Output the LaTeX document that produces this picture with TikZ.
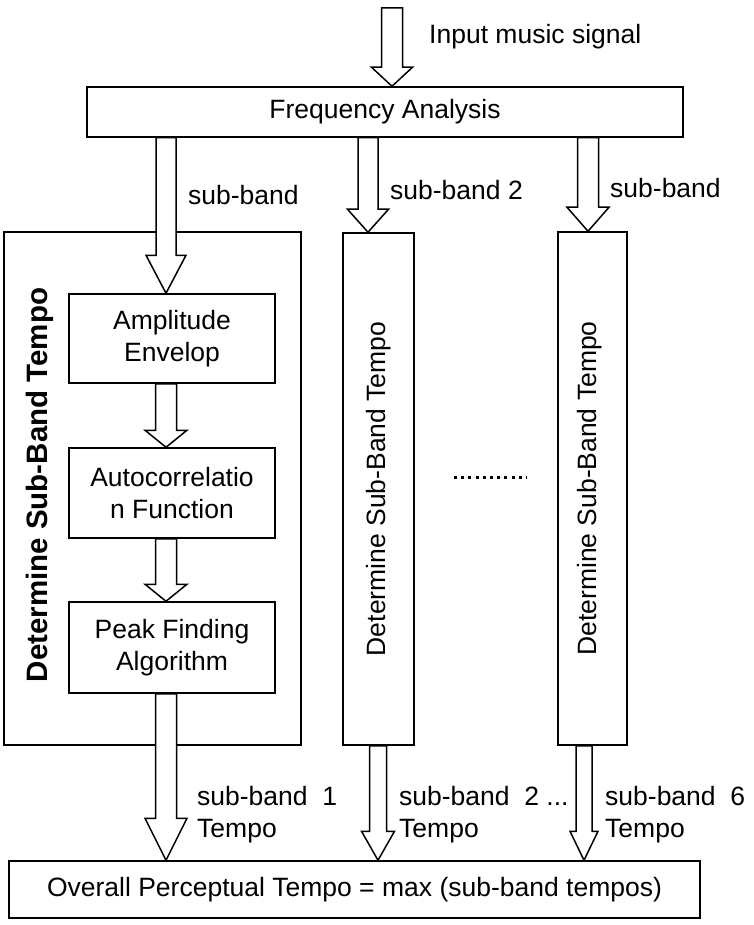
\documentclass[tikz,border=0pt]{standalone}
\usepackage{fontspec}
\setmainfont{Liberation Sans}
\usetikzlibrary{calc}

% hollow block arrow: from, to, half shaft, half head, head length
\newcommand{\fatarrow}[5]{%
  \draw[fat] ($(#1)+(-#3,0)$) -- ($(#2)+(-#3,-#5)$) -- ($(#2)+(-#4,-#5)$) -- (#2)
    -- ($(#2)+(#4,-#5)$) -- ($(#2)+(#3,-#5)$) -- ($(#1)+(#3,0)$) -- cycle;}

\begin{document}
\begin{tikzpicture}[x=1pt,y=-1pt,
font=\fontsize{26.5}{32}\selectfont,
% common options for the boxes:
box/.style = {draw, line width=1.5pt, align=center, inner sep=0},
% the hollow arrows:
fat/.style = {draw, fill=white, line width=1.5pt, line join=miter},
% labels next to the arrows:
lbl/.style = {anchor=west, align=left, inner sep=0}]
\useasboundingbox (0,0) rectangle (753,925);
\node[box,minimum width=596pt,minimum height=50pt] (freq) at (385,112) {Frequency Analysis};
\node[box,minimum width=297pt,minimum height=513pt] (outer) at (152.5,488.5) {};
\node[box,minimum width=206pt,minimum height=89pt] (amp) at (172,338.5) {Amplitude\\Envelop};
\node[box,minimum width=206pt,minimum height=90pt] (acf) at (172,493) {Autocorrelatio\\n Function};
\node[box,minimum width=206pt,minimum height=91pt] (peak) at (172,647.5) {Peak Finding\\Algorithm};
\node[box,minimum width=71pt,minimum height=512pt] (band2) at (378.5,489) {};
\node[box,minimum width=69pt,minimum height=513pt] (band6) at (592.5,488.5) {};
\node[box,minimum width=691pt,minimum height=57pt] (total) at (354.5,889.5) {Overall Perceptual Tempo = max (sub-band tempos)};
\node[rotate=90,inner sep=0,font=\fontsize{29.5}{34}\selectfont\bfseries] (t1) at (40,485) {Determine Sub-Band Tempo};
\node[rotate=90,inner sep=0] (t2) at (band2.center) {Determine Sub-Band Tempo};
\node[rotate=90,inner sep=0] (t6) at (590,488.5) {Determine Sub-Band Tempo};
\draw[line width=3pt,dash pattern=on 3pt off 4.2pt] (454,477) -- (527,477);
% arrow columns
\coordinate (in) at (392,8);
\coordinate (colA) at (166,0);
\coordinate (col2) at (368,0);
\coordinate (col6) at (588,0);
\coordinate (out2) at (378,0);
\coordinate (out6) at (584,0);
\fatarrow{in}{in |- freq.north}{10.5}{20.5}{19}
\fatarrow{colA |- freq.south}{colA |- amp.north}{10}{20}{38}
\fatarrow{colA |- amp.south}{colA |- acf.north}{10.5}{21}{17}
\fatarrow{colA |- acf.south}{colA |- peak.north}{10.5}{21}{17}
\fatarrow{colA |- peak.south}{colA |- total.north}{10.5}{21}{42}
\fatarrow{col2 |- freq.south}{col2 |- band2.north}{10}{20.5}{23}
\fatarrow{col6 |- freq.south}{col6 |- band6.north}{10.5}{21}{24}
\fatarrow{out2 |- band2.south}{out2 |- total.north}{8.5}{16.5}{29}
\fatarrow{out6 |- band6.south}{out6 |- total.north}{8}{14}{29}
% labels
\node[lbl] (lin) at (429,37) {Input music signal};
\node[lbl] (l1) at (188,195) {sub-band};
\node[lbl] (l2) at (390,190) {sub-band 2};
\node[lbl] (l6) at (610,188) {sub-band};
\node[lbl] (r1) at (197,815) {sub-band~~1\\Tempo};
\node[lbl] (r2) at (399,815) {sub-band~~2 ...\\Tempo};
\node[lbl] (r6) at (605,815) {sub-band~~6\\Tempo};
\end{tikzpicture}
\end{document}
